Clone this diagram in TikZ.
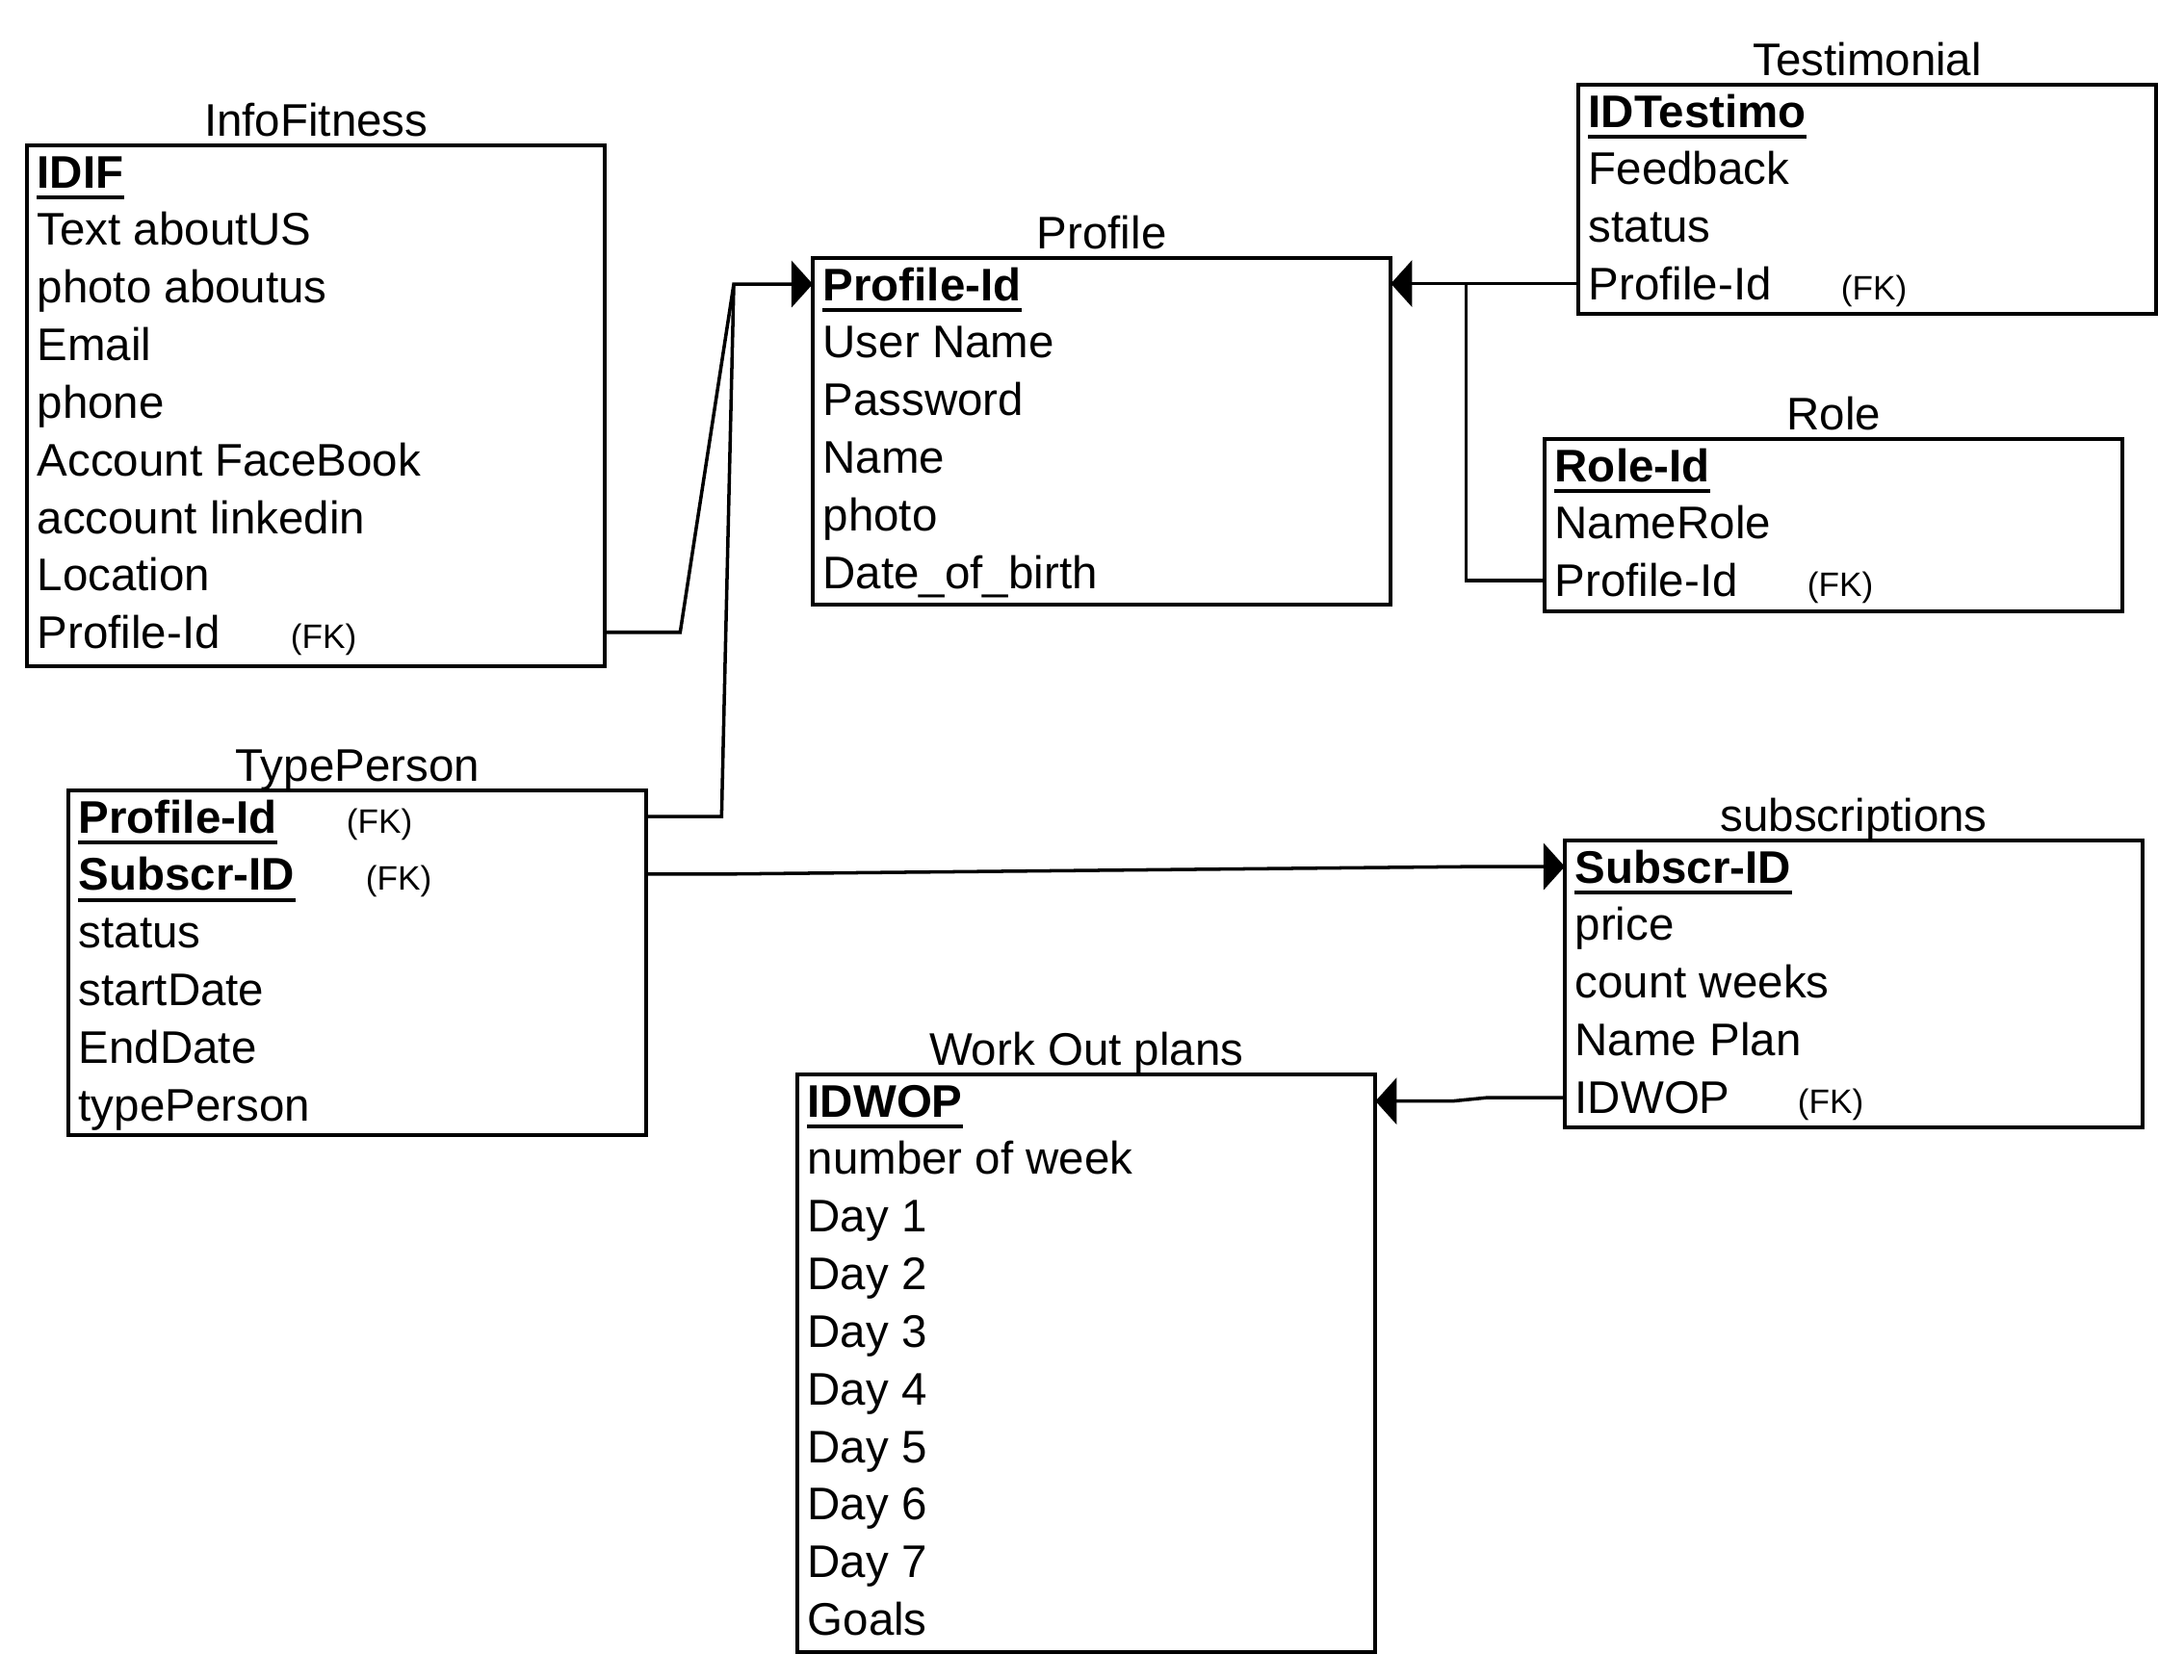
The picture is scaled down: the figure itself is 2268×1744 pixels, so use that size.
\documentclass[tikz,border=0pt]{standalone}
\usepackage{fontspec}
\setmainfont{Liberation Sans}
\usetikzlibrary{arrows.meta,calc}
\newcommand\ertext{\fontsize{13.5pt}{16pt}\selectfont}
\newcommand\erfk{\fontsize{10pt}{12pt}\selectfont}
\begin{document}
\begin{tikzpicture}[x=0.01cm,y=-0.01cm,
  tbl/.style={draw, line width=1.1pt, minimum width=6cm, anchor=north west, inner sep=0pt, outer sep=0pt},
  attr/.style={anchor=base west, inner sep=0pt, font=\ertext},
  keyrow/.style={anchor=base west, inner sep=0pt, font=\ertext\bfseries},
  ttl/.style={anchor=base, inner sep=0pt, font=\ertext},
  fk/.style={anchor=base west, inner sep=0pt, font=\erfk},
  uline/.style={line width=1.2pt},
  conn/.style={line width=1pt, line join=miter},
  tip/.style={-{Triangle[length=0.22cm,width=0.48cm]}}
]
\useasboundingbox (0,0) rectangle (2268,1744);

% ---------- InfoFitness ----------
\node[tbl, minimum height=5.41cm] (info) at (28,151) {};
\node[ttl] (infoT) at ([yshift=0.1cm]info.north) {InfoFitness};
\node[keyrow] (infoK) at ([xshift=0.1cm,yshift=-0.44cm]info.north west) {IDIF};
\draw[uline] ([yshift=-0.1cm]infoK.base west) -- ([yshift=-0.1cm]infoK.base east);
\foreach \t [count=\i] in {Text aboutUS, photo aboutus, Email, phone, Account FaceBook, account linkedin, Location, Profile-Id}
  \node[attr] (info\i) at ([yshift={-0.598cm*\i}]infoK.base west) {\t};
\node[fk] (infoFK) at ([xshift=2.63cm]info8.base west) {(FK)};

% ---------- Profile ----------
\node[tbl, minimum height=3.6cm] (prof) at (844,268) {};
\node[ttl] (profT) at ([yshift=0.1cm]prof.north) {Profile};
\node[keyrow] (profK) at ([xshift=0.1cm,yshift=-0.44cm]prof.north west) {Profile-Id};
\draw[uline] ([yshift=-0.1cm]profK.base west) -- ([yshift=-0.1cm]profK.base east);
\foreach \t [count=\i] in {User Name, Password, Name, photo, Date\_of\_birth}
  \node[attr] (prof\i) at ([yshift={-0.598cm*\i}]profK.base west) {\t};

% ---------- Testimonial ----------
\node[tbl, minimum height=2.38cm] (test) at (1639,88) {};
\node[ttl] (testT) at ([yshift=0.1cm]test.north) {Testimonial};
\node[keyrow] (testK) at ([xshift=0.1cm,yshift=-0.44cm]test.north west) {IDTestimo};
\draw[uline] ([yshift=-0.1cm]testK.base west) -- ([yshift=-0.1cm]testK.base east);
\foreach \t [count=\i] in {Feedback, status, Profile-Id}
  \node[attr] (test\i) at ([yshift={-0.598cm*\i}]testK.base west) {\t};
\node[fk] (testFK) at ([xshift=2.62cm]test3.base west) {(FK)};

% ---------- Role ----------
\node[tbl, minimum height=1.79cm] (role) at (1604,456) {};
\node[ttl] (roleT) at ([yshift=0.1cm]role.north) {Role};
\node[keyrow] (roleK) at ([xshift=0.1cm,yshift=-0.44cm]role.north west) {Role-Id};
\draw[uline] ([yshift=-0.1cm]roleK.base west) -- ([yshift=-0.1cm]roleK.base east);
\foreach \t [count=\i] in {NameRole, Profile-Id}
  \node[attr] (role\i) at ([yshift={-0.598cm*\i}]roleK.base west) {\t};
\node[fk] (roleFK) at ([xshift=2.62cm]role2.base west) {(FK)};

% ---------- TypePerson ----------
\node[tbl, minimum height=3.58cm] (tp) at (71,821) {};
\node[ttl] (tpT) at ([yshift=0.1cm]tp.north) {TypePerson};
\node[keyrow] (tpK) at ([xshift=0.1cm,yshift=-0.44cm]tp.north west) {Profile-Id};
\draw[uline] ([yshift=-0.1cm]tpK.base west) -- ([yshift=-0.1cm]tpK.base east);
\node[keyrow] (tpS) at ([yshift=-0.598cm]tpK.base west) {Subscr-ID};
\draw[uline] ([yshift=-0.1cm]tpS.base west) -- ([yshift=-0.1cm]tpS.base east);
\node[fk] (tpKFK) at ([xshift=2.78cm]tpK.base west) {(FK)};
\node[fk] (tpSFK) at ([xshift=2.98cm]tpS.base west) {(FK)};
\foreach \t [count=\i from 2] in {status, startDate, EndDate, typePerson}
  \node[attr] (tp\i) at ([yshift={-0.598cm*\i}]tpK.base west) {\t};

% ---------- subscriptions ----------
\node[tbl, minimum height=2.98cm] (sub) at (1625,873) {};
\node[ttl] (subT) at ([yshift=0.1cm]sub.north) {subscriptions};
\node[keyrow] (subK) at ([xshift=0.1cm,yshift=-0.44cm]sub.north west) {Subscr-ID};
\draw[uline] ([yshift=-0.1cm]subK.base west) -- ([yshift=-0.1cm]subK.base east);
\foreach \t [count=\i] in {price, count weeks, Name Plan, IDWOP}
  \node[attr] (sub\i) at ([yshift={-0.598cm*\i}]subK.base west) {\t};
\node[fk] (subFK) at ([xshift=2.31cm]sub4.base west) {(FK)};

% ---------- Work Out plans ----------
\node[tbl, minimum height=6cm] (wop) at (828,1116) {};
\node[ttl] (wopT) at ([yshift=0.1cm]wop.north) {Work Out plans};
\node[keyrow] (wopK) at ([xshift=0.1cm,yshift=-0.44cm]wop.north west) {IDWOP};
\draw[uline] ([yshift=-0.1cm]wopK.base west) -- ([yshift=-0.1cm]wopK.base east);
\foreach \t [count=\i] in {number of week, Day 1, Day 2, Day 3, Day 4, Day 5, Day 6, Day 7, Goals}
  \node[attr] (wop\i) at ([yshift={-0.598cm*\i}]wopK.base west) {\t};

% ---------- connectors ----------
\coordinate (j1) at ($(prof.west |- profK)+(-82,0)$);
\coordinate (j2) at ($(prof.east |- profK)+(78,0)$);
\draw[conn,tip] (info.east |- info8) -- ++(78,0) -- (j1) -- (prof.west |- profK);
\draw[conn] (tp.east |- tpK) -- ++(78,0) -- (j1);
\draw[conn,tip] (test.west |- test3) -- (prof.east |- test3);
\draw[conn] (role.west |- role2) -| (j2);
\draw[conn,tip] (tp.east |- tpS) -- ++(77,0) -- ($(sub.west |- subK)+(-90,0)$) -- (sub.west |- subK);
\draw[conn,tip] (sub.west |- sub4) -- ++(-80,0) -- ($(wop.east |- wopK)+(80,0)$) -- (wop.east |- wopK);
\end{tikzpicture}
\end{document}
